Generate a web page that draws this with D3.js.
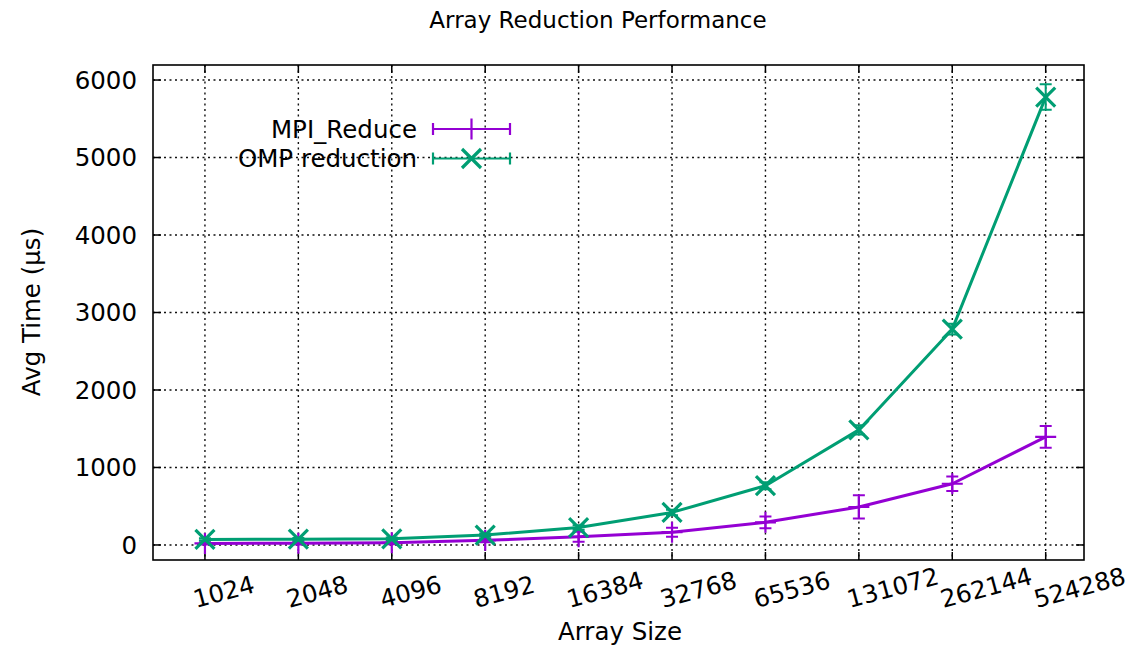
<!DOCTYPE html>
<html>
<head>
<meta charset="utf-8">
<script src="https://cdn.jsdelivr.net/npm/d3@7"></script>
<style>
  body { margin: 0; background: #fff; }
  text { font-family: "DejaVu Sans", sans-serif; fill: #000; }
</style>
</head>
<body>
<svg id="chart" width="1145" height="651"></svg>
<script>
// data
const sizes = [1024, 2048, 4096, 8192, 16384, 32768, 65536, 131072, 262144, 524288];
const mpiMean = [20, 22, 28, 60, 105, 165, 292, 490, 790, 1395];
const mpiErr = [15, 15, 18, 25, 65, 58, 75, 150, 92, 140];
const ompMean = [72, 74, 80, 128, 225, 420, 765, 1485, 2785, 5780];
const ompErr = [15, 15, 15, 20, 30, 35, 45, 60, 70, 165];
const yTicks = [0, 1000, 2000, 3000, 4000, 5000, 6000];

const seriesNames = ["MPI_Reduce", "OMP reduction"];
const colors = ["#9400d3", "#009e73"];

const svg = d3.select("#chart");
const margin = { left: 153, right: 1084, top: 65, bottom: 560 };
const fontSize = 24.5;

const x = d3.scaleLog().base(2)
  .domain([1024 * Math.pow(2, -0.556), 524288 * Math.pow(2, 0.41)])
  .range([margin.left, margin.right]);
const y = d3.scaleLinear()
  .domain([-194, 6194])
  .range([margin.bottom, margin.top]);

// grid
const grid = svg.append("g")
  .attr("stroke", "#111")
  .attr("stroke-width", 1.4)
  .attr("stroke-dasharray", "2,3.5");
grid.selectAll(".gx").data(sizes).join("line")
  .attr("x1", d => x(d)).attr("x2", d => x(d))
  .attr("y1", margin.top).attr("y2", margin.bottom);
grid.selectAll(".gy").data(yTicks).join("line")
  .attr("x1", margin.left).attr("x2", margin.right)
  .attr("y1", d => y(d)).attr("y2", d => y(d));

// tick marks on all four sides, pointing inward
const tickLen = 8;
const ticks = svg.append("g").attr("stroke", "#000").attr("stroke-width", 1.5);
sizes.forEach(d => {
  ticks.append("line").attr("x1", x(d)).attr("x2", x(d))
    .attr("y1", margin.bottom).attr("y2", margin.bottom - tickLen);
  ticks.append("line").attr("x1", x(d)).attr("x2", x(d))
    .attr("y1", margin.top).attr("y2", margin.top + tickLen);
});
yTicks.forEach(d => {
  ticks.append("line").attr("x1", margin.left).attr("x2", margin.left + tickLen)
    .attr("y1", y(d)).attr("y2", y(d));
  ticks.append("line").attr("x1", margin.right).attr("x2", margin.right - tickLen)
    .attr("y1", y(d)).attr("y2", y(d));
});

// y tick labels
svg.append("g").selectAll("text").data(yTicks).join("text")
  .attr("x", 137)
  .attr("y", d => y(d))
  .attr("dy", "0.36em")
  .attr("text-anchor", "end")
  .attr("font-size", fontSize)
  .text(d => d);

// x tick labels, rotated by 15 degrees
svg.append("g").selectAll("text").data(sizes).join("text")
  .attr("transform", d => `translate(${x(d) - 9},608) rotate(-15)`)
  .attr("text-anchor", "start")
  .attr("font-size", fontSize)
  .text(d => d);

// frame
svg.append("rect")
  .attr("x", margin.left).attr("y", margin.top)
  .attr("width", margin.right - margin.left)
  .attr("height", margin.bottom - margin.top)
  .attr("fill", "none").attr("stroke", "#000").attr("stroke-width", 1.6);

// titles
svg.append("text").attr("x", 598).attr("y", 28)
  .attr("text-anchor", "middle").attr("font-size", 23)
  .text("Array Reduction Performance");
svg.append("text").attr("x", 620).attr("y", 640)
  .attr("text-anchor", "middle").attr("font-size", fontSize)
  .text("Array Size");
svg.append("text")
  .attr("transform", "translate(40,312) rotate(-90)")
  .attr("text-anchor", "middle").attr("font-size", fontSize)
  .text("Avg Time (µs)");

// markers
function plusPath(cx, cy, r) {
  return `M${cx - r},${cy}H${cx + r}M${cx},${cy - r}V${cy + r}`;
}
function crossPath(cx, cy, r) {
  return `M${cx - r},${cy - r}L${cx + r},${cy + r}M${cx - r},${cy + r}L${cx + r},${cy - r}`;
}
const markers = [plusPath, crossPath];
const capHalf = 6;

const series = [
  { mean: mpiMean, err: mpiErr },
  { mean: ompMean, err: ompErr }
];

const line = d3.line().x(d => x(d[0])).y(d => y(d[1]));

series.forEach((s, i) => {
  const g = svg.append("g")
    .attr("stroke", colors[i])
    .attr("fill", "none")
    .attr("stroke-width", 3);
  const pts = sizes.map((d, j) => [d, s.mean[j], s.err[j]]);

  g.append("path").attr("d", line(pts)).attr("stroke-linejoin", "round");

  const eb = g.append("g").attr("stroke-width", 2);
  pts.forEach(p => {
    const cx = x(p[0]);
    const y0 = y(p[1] - p[2]);
    const y1 = y(p[1] + p[2]);
    eb.append("path").attr("d",
      `M${cx},${y0}V${y1}M${cx - capHalf},${y0}H${cx + capHalf}M${cx - capHalf},${y1}H${cx + capHalf}`);
  });

  g.append("g").attr("stroke-width", i === 0 ? 2.2 : 3.2).selectAll("path").data(pts).join("path")
    .attr("d", p => markers[i](x(p[0]), y(p[1]), i === 0 ? 10.5 : 9.5));
});

// legend
const legend = svg.append("g");
seriesNames.forEach((name, i) => {
  const ly = 129 + i * 29.5;
  legend.append("text")
    .attr("x", 417).attr("y", ly)
    .attr("dy", "0.36em")
    .attr("text-anchor", "end")
    .attr("font-size", fontSize)
    .text(name);
  const lg = legend.append("g").attr("stroke", colors[i]).attr("fill", "none").attr("stroke-width", 2.2);
  lg.append("path").attr("d",
    `M433,${ly}H510M433,${ly - capHalf}V${ly + capHalf}M510,${ly - capHalf}V${ly + capHalf}`);
  lg.append("path").attr("stroke-width", i === 0 ? 2.2 : 3.2)
    .attr("d", markers[i](471.5, ly, i === 0 ? 10.5 : 9.5));
});
</script>
</body>
</html>
